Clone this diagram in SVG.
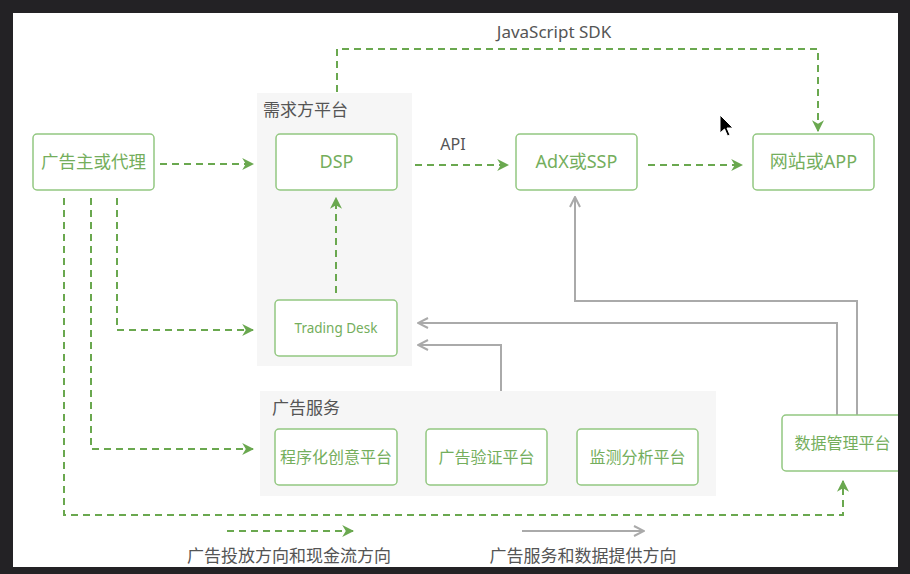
<svg xmlns="http://www.w3.org/2000/svg" width="910" height="574" viewBox="0 0 910 574">
<style>
.grp{fill:#f6f6f6}
.box{fill:#ffffff;stroke:#93c781;stroke-width:1.5}
.bt{font-family:"Noto Sans","Noto Sans CJK SC",sans-serif;fill:#74ae5c;text-anchor:middle;font-size:16px}
.lbl{font-family:"Noto Sans","Noto Sans CJK SC",sans-serif;fill:#555555;font-size:17px}
.g{fill:none;stroke:#6aa84f;stroke-width:2;stroke-dasharray:7 5}
.s{fill:none;stroke:#aaaaaa;stroke-width:2}
</style>
<defs>
<marker id="ag" viewBox="0 0 10 10" refX="9" refY="5" markerWidth="12" markerHeight="12" markerUnits="userSpaceOnUse" orient="auto">
<path d="M0,0 L10,5 L0,10 L3,5 Z" fill="#6aa84f"/>
</marker>
<marker id="as" viewBox="0 0 12 12" refX="11" refY="6" markerWidth="12" markerHeight="12" markerUnits="userSpaceOnUse" orient="auto">
<path d="M1,1 L11,6 L1,11" fill="none" stroke="#aaaaaa" stroke-width="2"/>
</marker>
</defs>
<rect x="0" y="0" width="910" height="574" fill="#232225"/>
<rect x="13" y="13" width="885" height="554" fill="#ffffff"/>

<g id="demand-group">
<rect class="grp" x="257" y="93" width="155" height="273"/>
<text class="lbl" x="263" y="116">需求方平台</text>
</g>
<g id="service-group">
<rect class="grp" x="260" y="391" width="456" height="105"/>
<text class="lbl" x="272" y="414">广告服务</text>
</g>

<g id="connectors">
<path class="g" d="M337,92 V49 H818 V131" marker-end="url(#ag)"/>
<path class="g" d="M160,164 H253" marker-end="url(#ag)"/>
<path class="g" d="M415,165 H508" marker-end="url(#ag)"/>
<path class="g" d="M648,165 H742" marker-end="url(#ag)"/>
<path class="g" d="M336,293 V198" marker-end="url(#ag)"/>
<path class="g" d="M117,198 V330 H253" marker-end="url(#ag)"/>
<path class="g" d="M91,198 V449 H253" marker-end="url(#ag)"/>
<path class="g" d="M64,198 V515 H843 V481" marker-end="url(#ag)"/>
<path class="s" d="M857,415 V301 H575 V197" marker-end="url(#as)"/>
<path class="s" d="M837,415 V323 H418" marker-end="url(#as)"/>
<path class="s" d="M501,391 V345 H418" marker-end="url(#as)"/>
<path class="g" d="M227,531 H353" marker-end="url(#ag)"/>
<path class="s" d="M522,531 H644" marker-end="url(#as)"/>
</g>

<g id="n-advertiser"><rect class="box" x="33" y="134" width="121" height="56" rx="4"/><text class="bt" x="93.5" y="168" style="font-size:17.5px">广告主或代理</text></g>
<g id="n-dsp"><rect class="box" x="276" y="134" width="121" height="56" rx="4"/><text class="bt" x="336.5" y="168" style="font-size:18px">DSP</text></g>
<g id="n-adx"><rect class="box" x="516" y="134" width="121" height="56" rx="4"/><text class="bt" x="576.5" y="168" style="font-size:18px">AdX或SSP</text></g>
<g id="n-site"><rect class="box" x="753" y="134" width="121" height="56" rx="4"/><text class="bt" x="813.5" y="168" style="font-size:18px">网站或APP</text></g>
<g id="n-td"><rect class="box" x="275" y="300" width="122" height="56" rx="4"/><text class="bt" x="336" y="333" style="font-size:13.5px">Trading Desk</text></g>
<g id="n-creative"><rect class="box" x="275" y="429" width="122" height="56" rx="4"/><text class="bt" x="336" y="463">程序化创意平台</text></g>
<g id="n-verify"><rect class="box" x="426" y="429" width="121" height="56" rx="4"/><text class="bt" x="486.5" y="463">广告验证平台</text></g>
<g id="n-monitor"><rect class="box" x="577" y="429" width="121" height="56" rx="4"/><text class="bt" x="637.5" y="463">监测分析平台</text></g>
<g id="n-dmp"><rect class="box" x="782" y="415" width="121" height="56" rx="4"/><text class="bt" x="842.5" y="449">数据管理平台</text></g>

<rect x="898" y="13" width="12" height="554" fill="#232225"/>

<text class="lbl" x="554" y="38" text-anchor="middle">JavaScript SDK</text>
<text class="lbl" x="453" y="150" text-anchor="middle" style="font-size:16px">API</text>
<text class="lbl" x="289" y="562" text-anchor="middle">广告投放方向和现金流方向</text>
<text class="lbl" x="583" y="562" text-anchor="middle">广告服务和数据提供方向</text>

<path d="M720,115 L720,133 L724.5,129 L727.5,136 L730,135 L727,128 L733,128 Z" fill="#000000" stroke="#ffffff" stroke-width="1"/>
</svg>
